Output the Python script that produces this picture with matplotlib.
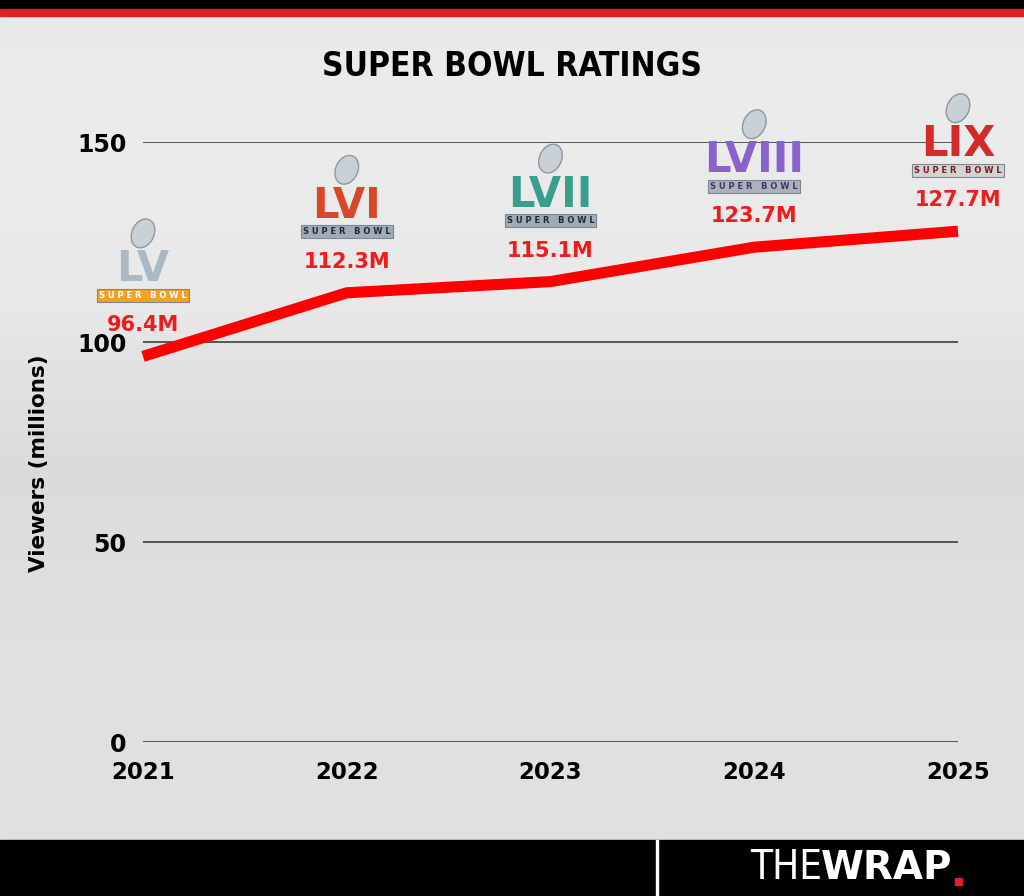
import numpy as np
import matplotlib.pyplot as plt
from matplotlib.patches import Rectangle, Ellipse

years = [2021, 2022, 2023, 2024, 2025]
viewers = [96.4, 112.3, 115.1, 123.7, 127.7]
value_labels = ['96.4M', '112.3M', '115.1M', '123.7M', '127.7M']
numerals = ['LV', 'LVI', 'LVII', 'LVIII', 'LIX']
y_ticks = [0, 50, 100, 150]

# logo colours: numerals, banner face, banner text
logo_styles = [
    ('#a9bac6', '#f0a225', 'white'),
    ('#d9472b', '#9fabb7', '#1f2a36'),
    ('#3a9e8c', '#9fabb7', '#1f2a36'),
    ('#8b62c9', '#aab2ba', '#4b2f7a'),
    ('#d42a2a', '#d3d3d3', '#7a1a1a'),
]

W, H = 1024, 896
fig = plt.figure(figsize=(W / 100, H / 100), dpi=100)

def fx(px):
    return px / W

def fy(py):
    return 1 - py / H

# background (grey stadium-ish gradient)
bg = fig.add_axes([0, 0, 1, 1])
rows = np.arange(H)
prof = np.interp(rows, [0, 120, 300, 380, 470, 540, 640, 840, 896],
                 [0.91, 0.92, 0.91, 0.88, 0.855, 0.865, 0.875, 0.88, 0.88])
img = np.tile(prof[:, None], (1, W))
bg.imshow(img, cmap='gray', vmin=0, vmax=1, aspect='auto', extent=[0, W, H, 0],
          interpolation='bilinear')
bg.set_xlim(0, W)
bg.set_ylim(H, 0)
bg.axis('off')

# top bars
fig.add_artist(Rectangle((0, fy(9)), 1, 9 / H, transform=fig.transFigure, color='black'))
fig.add_artist(Rectangle((0, fy(16)), 1, 7 / H, transform=fig.transFigure, color='#e31e24'))

# bottom band
fig.add_artist(Rectangle((0, 0), 1, 56 / H, transform=fig.transFigure, color='black'))
fig.add_artist(Rectangle((fx(656), 0), 2 / W, 56 / H, transform=fig.transFigure, color='white'))
fig.text(fx(822), fy(868), 'THE', color='white', fontsize=29, family='DejaVu Sans',
         fontweight='light', ha='right', va='center', stretch='condensed')
wrap = fig.text(fx(821), fy(868), 'WRAP', color='white', fontsize=28, family='DejaVu Sans',
                fontweight='bold', ha='left', va='center')

# title
fig.text(0.5, fy(66), 'SUPER BOWL RATINGS', fontsize=24, family='DejaVu Sans', stretch='condensed',
         fontweight='bold', ha='center', va='center', color='black')

ax = fig.add_axes([fx(143), fy(742), fx(958) - fx(143), fy(142) - fy(742)])
ax.patch.set_alpha(0)
ax.set_xlim(2021, 2025)
ax.set_ylim(0, 150)
for t in y_ticks:
    ax.axhline(t, color='#4a4a4a', lw=1.3, zorder=1, xmin=0, xmax=1)
for s in ax.spines.values():
    s.set_visible(False)
ax.set_yticks(y_ticks)
ax.set_yticklabels([str(t) for t in y_ticks], fontsize=17, family='DejaVu Sans', fontweight='bold')
ax.set_xticks(years)
ax.set_xticklabels([str(y) for y in years], fontsize=16.5, family='DejaVu Sans', fontweight='bold')
ax.tick_params(axis='y', length=0, pad=12)
ax.tick_params(axis='x', length=0, pad=14)
ax.set_ylabel('Viewers (millions)', fontsize=15.5, family='DejaVu Sans', fontweight='bold')
ax.yaxis.set_label_coords(-(143 - 49) / 815, 0.465)

ax.plot(years, viewers, color='#ff0000', lw=8, solid_capstyle='butt', solid_joinstyle='round',
        clip_on=False, zorder=3)

for i in range(len(years)):
    ncol, bface, btxt = logo_styles[i]
    ax.annotate(value_labels[i], (years[i], viewers[i]), xytext=(0, 31), textcoords='offset pixels',
                ha='center', va='center', fontsize=15, family='DejaVu Sans', fontweight='bold',
                color='#ee1c1c', annotation_clip=False, zorder=5)
    ax.annotate(numerals[i], (years[i], viewers[i]), xytext=(0, 87), textcoords='offset pixels',
                ha='center', va='center', fontsize=30, family='DejaVu Sans', fontweight='bold',
                color=ncol, annotation_clip=False, zorder=5)
    ax.annotate('S U P E R   B O W L', (years[i], viewers[i]), xytext=(0, 61), textcoords='offset pixels',
                ha='center', va='center', fontsize=6, family='DejaVu Sans', fontweight='bold',
                color=btxt, annotation_clip=False, zorder=6,
                bbox=dict(boxstyle='square,pad=0.25', fc=bface, ec='#7d8790', lw=0.8))
    # silver football of the trophy
    px, py = ax.transData.transform((years[i], viewers[i]))
    fig.add_artist(Ellipse((px, py + 123), 22, 30, angle=-25, transform=None,
                           fc='#c9d0d6', ec='#8e979f', lw=1, zorder=6))

fig.canvas.draw()
bb = wrap.get_window_extent()
fig.add_artist(Rectangle(((bb.x1 + 2) / W, fy(885)), 7 / W, 7 / H, transform=fig.transFigure,
                         color='#e31e24'))

fig.savefig('out.png', dpi=100)
